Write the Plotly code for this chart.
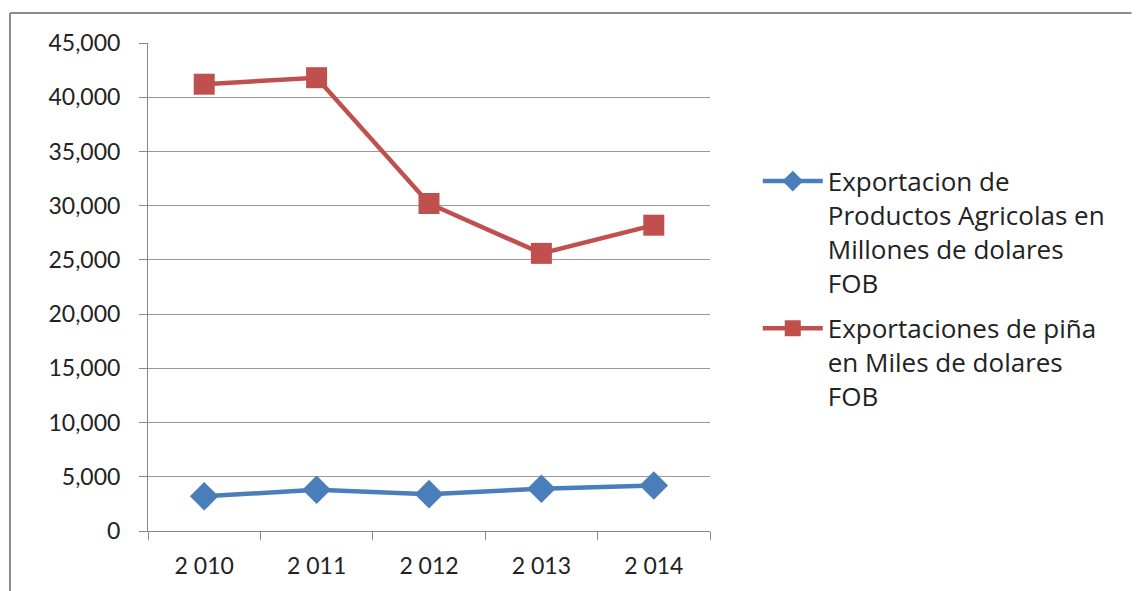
import plotly.graph_objects as go

years = ["2 010", "2 011", "2 012", "2 013", "2 014"]
agricolas = [3200, 3800, 3400, 3900, 4200]
pina = [41200, 41800, 30200, 25600, 28200]

name_agricolas = "Exportacion de<br>Productos Agricolas en<br>Millones de dolares<br>FOB"
name_pina = "Exportaciones de piña<br>en Miles de dolares<br>FOB"

fig = go.Figure()
fig.add_trace(go.Scatter(
    x=years, y=agricolas, name=name_agricolas, mode="lines+markers",
    legendgroup="a",
    line=dict(color="#4A7EBB", width=4.5),
    marker=dict(symbol="diamond", size=22, color="#4A7EBB")
))
fig.add_trace(go.Scatter(
    x=years, y=pina, name=name_pina, mode="lines+markers",
    legendgroup="b",
    line=dict(color="#C0504D", width=4.5),
    marker=dict(symbol="square", size=21, color="#C0504D")
))

# page is offset by the 8px body margin, so the figure is drawn 8px smaller
frame = dict(color="#8c8c8c", width=2)
fig.update_layout(
    width=1132, height=583,
    margin=dict(l=140, r=430, t=35, b=60),
    paper_bgcolor="white",
    plot_bgcolor="white",
    font=dict(family="Lato, Open Sans, sans-serif", size=23, color="#222"),
    legend=dict(
        x=1.085, y=0.765, xanchor="left", yanchor="top",
        traceorder="grouped", tracegroupgap=9, valign="top",
        font=dict(size=26, family="Open Sans, Lato, sans-serif"), itemwidth=60
    ),
    shapes=[
        dict(type="line", xref="paper", yref="paper",
             x0=-0.2456, x1=1.75, y0=1.0615, y1=1.0615, line=frame),
        dict(type="line", xref="paper", yref="paper",
             x0=-0.2456, x1=-0.2456, y0=-0.2, y1=1.0615, line=frame),
    ],
)
fig.update_xaxes(
    type="category", range=[-0.5, 4.5], showgrid=False, showline=True,
    linecolor="#888", linewidth=1,
    ticks="outside", tickson="boundaries", ticklen=8, tickcolor="#888",
    ticklabelstandoff=14
)
fig.update_yaxes(
    range=[0, 45000], dtick=5000, tickformat=",d", showgrid=True,
    gridcolor="#999", gridwidth=1, showline=True, linecolor="#888",
    ticks="outside", ticklen=8, tickcolor="#888", zeroline=False,
    ticklabelstandoff=14
)

fig.write_html("out.html")
